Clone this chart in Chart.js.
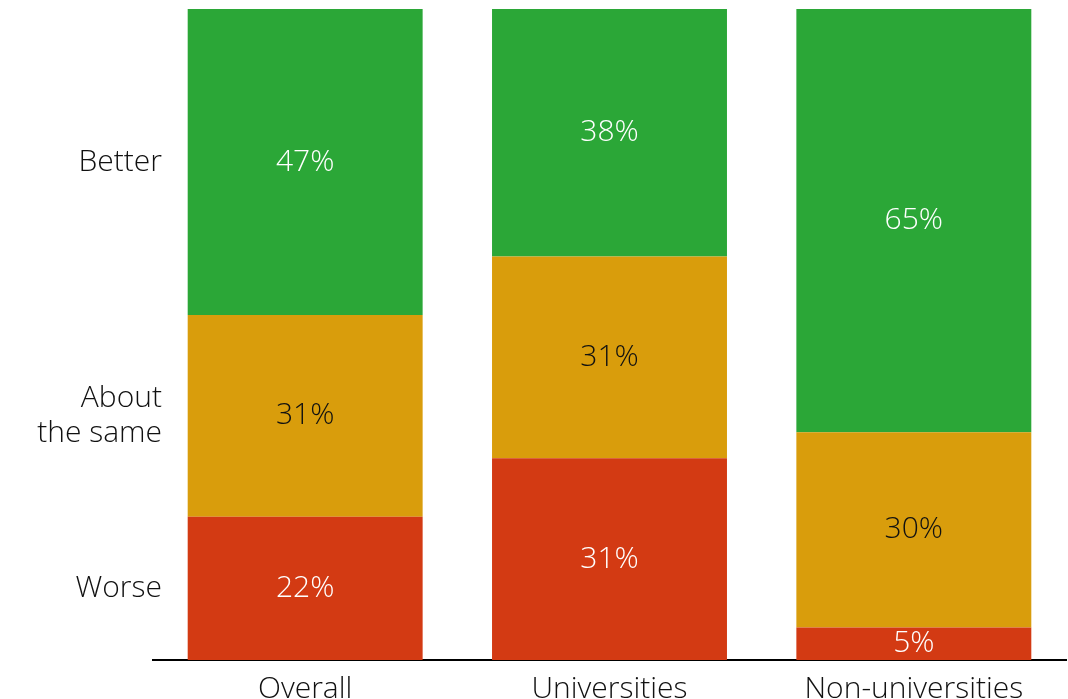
<!DOCTYPE html>
<html>
<head>
<meta charset="utf-8">
<script src="https://cdn.jsdelivr.net/npm/chart.js@4/dist/chart.umd.min.js"></script>
<style>
    html, body { margin: 0; padding: 0; background: #fff; overflow: hidden; }
    #wrap { width: 1068px; height: 699px; }
</style>
</head>
<body>
<div id="wrap"><canvas id="barChart" width="1068" height="699"></canvas></div>
<script>
//分组与各项占比
var groups = ["Overall", "Universities", "Non-universities"];
var seriesNames = ["Worse", "About the same", "Better"];
var worse = [22, 31, 5];
var aboutSame = [31, 31, 30];
var better = [47, 38, 65];

var fontName = "'Open Sans', Lato, sans-serif";

//柱内百分比标签
var valueLabels = {
    id: "valueLabels",
    afterDatasetsDraw: function (chart) {
        var ctx = chart.ctx;
        ctx.save();
        ctx.font = "300 30px " + fontName;
        ctx.textAlign = "center";
        ctx.textBaseline = "middle";
        chart.data.datasets.forEach(function (ds, i) {
            var meta = chart.getDatasetMeta(i);
            meta.data.forEach(function (bar, j) {
                var v = ds.data[j];
                ctx.fillStyle = ds.labelColor;
                ctx.fillText(v + "%", bar.x, (bar.y + bar.base) / 2);
            });
        });
        ctx.restore();
    }
};

//左侧类别说明，对齐第一根柱子的各段
var sideLabels = {
    id: "sideLabels",
    afterDatasetsDraw: function (chart) {
        var ctx = chart.ctx;
        ctx.save();
        ctx.font = "300 30px " + fontName;
        ctx.textAlign = "right";
        ctx.textBaseline = "middle";
        ctx.fillStyle = "#111";
        var x = chart.chartArea.left + 9;
        chart.data.datasets.forEach(function (ds, i) {
            var bar = chart.getDatasetMeta(i).data[0];
            var mid = (bar.y + bar.base) / 2;
            var lines = ds.sideText;
            var lh = 35;
            var y0 = mid - (lines.length - 1) * lh / 2;
            lines.forEach(function (t, k) {
                ctx.fillText(t, x, y0 + k * lh);
            });
        });
        ctx.restore();
    }
};

var barChartData = {
    labels: groups,
    datasets: [
        {
            label: seriesNames[0],
            data: worse,
            backgroundColor: "#d33a13",
            labelColor: "#ffffff",
            sideText: ["Worse"]
        },
        {
            label: seriesNames[1],
            data: aboutSame,
            backgroundColor: "#d99d0c",
            labelColor: "#111111",
            sideText: ["About", "the same"]
        },
        {
            label: seriesNames[2],
            data: better,
            backgroundColor: "#2ba737",
            labelColor: "#ffffff",
            sideText: ["Better"]
        }
    ]
};

var barChartOptions = {
    responsive: false,
    animation: false,
    devicePixelRatio: 1,
    layout: {
        padding: { left: 153, right: 2, top: 9, bottom: 0 }
    },
    datasets: {
        bar: {
            categoryPercentage: 1,
            barPercentage: 0.772,
            borderWidth: 0
        }
    },
    plugins: {
        legend: { display: false },
        tooltip: { enabled: false }
    },
    scales: {
        x: {
            stacked: true,
            grid: { display: false, drawTicks: false },
            border: { display: true, color: "#000", width: 2 },
            ticks: {
                color: "#111",
                padding: 11,
                font: { family: fontName, size: 30, weight: 300 }
            },
            afterFit: function (axis) {
                axis.height = 39;
            }
        },
        y: {
            stacked: true,
            display: false,
            min: 0,
            max: 100
        }
    }
};

var barChartCanvas = document.getElementById("barChart").getContext("2d");
new Chart(barChartCanvas, {
    type: "bar",
    data: barChartData,
    options: barChartOptions,
    plugins: [valueLabels, sideLabels]
});
</script>
</body>
</html>
